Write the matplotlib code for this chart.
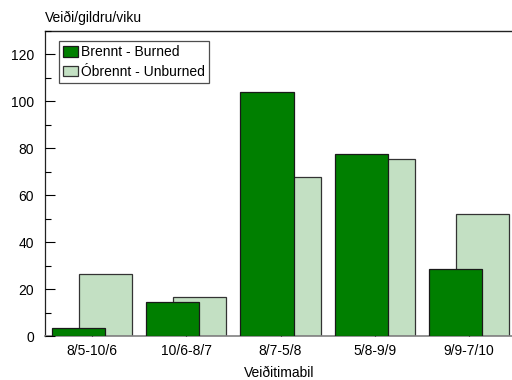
import matplotlib
matplotlib.use("Agg")
import matplotlib.pyplot as plt
import numpy as np
from matplotlib.ticker import MultipleLocator

plt.rcParams['font.family'] = ['Liberation Sans', 'DejaVu Sans']

periods = ["8/5-10/6", "10/6-8/7", "8/7-5/8", "5/8-9/9", "9/9-7/10"]
burned = [3.4, 14.6, 103.8, 77.4, 28.6]
unburned = [26.5, 16.7, 67.7, 75.4, 51.8]

FS = 10

fig = plt.figure(figsize=(5.12, 3.80), dpi=100)
ax = fig.add_axes([45/512, 1 - 336/380, (516 - 45)/512, (336 - 31)/380])

x = np.arange(len(periods))
w = 0.565
off = 0.143
ax.bar(x + off, unburned, width=w, color="#c3e0c3", edgecolor="#333333",
       linewidth=0.9, label="Óbrennt - Unburned", zorder=2)
ax.bar(x - off, burned, width=w, color="#007f00", edgecolor="#1a1a1a",
       linewidth=0.9, label="Brennt - Burned", zorder=3)

ax.set_xlim(-0.5, 4.5)
ax.set_ylim(0, 130)
ax.set_xticks(x)
ax.set_xticklabels(periods, fontsize=FS)
ax.yaxis.set_major_locator(MultipleLocator(20))
ax.yaxis.set_minor_locator(MultipleLocator(10))
ax.tick_params(axis='y', which='major', direction='in', length=7, width=0.8,
               labelsize=FS, pad=8)
ax.tick_params(axis='y', which='minor', direction='in', length=4, width=0.8)
ax.tick_params(axis='x', which='major', direction='in', length=6, width=0.8,
               labelsize=FS, pad=6)
for t in ax.xaxis.get_major_ticks():
    t.tick1line.set_zorder(5)
ax.set_axisbelow(False)

ax.spines['right'].set_visible(False)
ax.spines['bottom'].set_color("#808080")
ax.spines['bottom'].set_linewidth(1.2)
ax.spines['left'].set_color("#222222")
ax.spines['top'].set_color("#222222")
ax.spines['left'].set_linewidth(0.9)
ax.spines['top'].set_linewidth(1.0)

fig.text(279/512, 1 - 373/380, "Veiðitimabil", fontsize=FS,
         ha='center', va='center')
fig.text(45/512, 1 - 18/380, "Veiði/gildru/viku", fontsize=FS,
         ha='left', va='center')

handles, labels = ax.get_legend_handles_labels()
leg = ax.legend(handles[::-1], labels[::-1], loc='upper left',
                bbox_to_anchor=((59 - 45)/471, 1 - (41 - 31)/305),
                fontsize=FS, frameon=True, fancybox=False,
                handlelength=1.1, handleheight=0.8, handletextpad=0.15,
                borderpad=0.3, labelspacing=0.4, borderaxespad=0)
leg.get_frame().set_edgecolor("#222222")
leg.get_frame().set_linewidth(0.9)

fig.savefig("out.png", dpi=100)
